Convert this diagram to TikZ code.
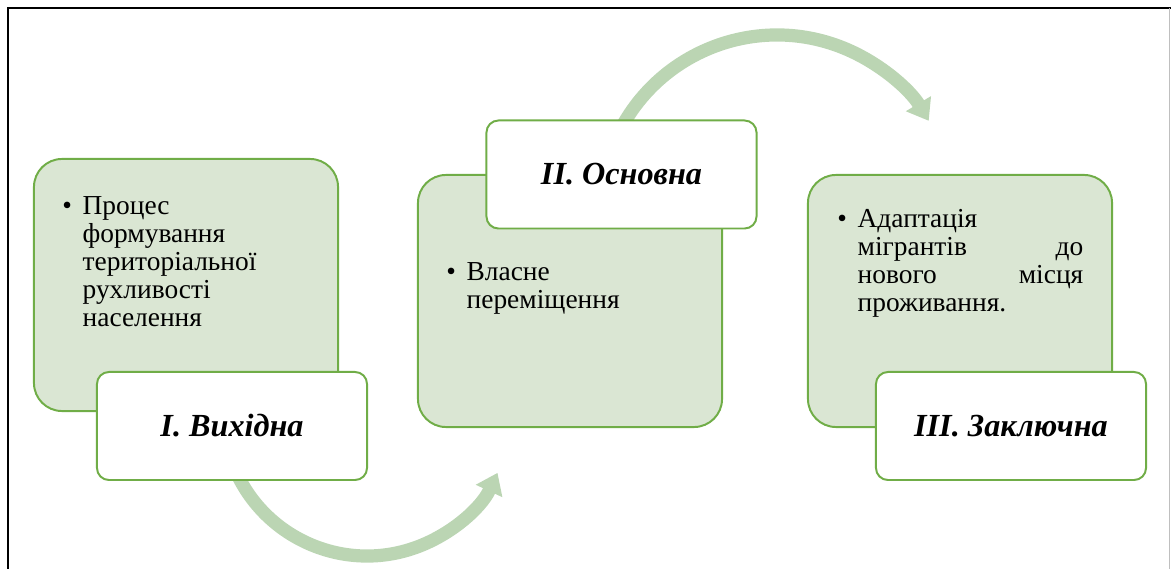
\documentclass[tikz,border=0pt]{standalone}
\usepackage{fontspec}
\setmainfont{Liberation Serif}
\usetikzlibrary{arrows.meta,calc}

\definecolor{boxfill}{RGB}{218,230,211}
\definecolor{boxline}{RGB}{112,173,71}
\definecolor{flowcol}{RGB}{187,213,179}

\newcommand{\punkt}[1]{\hangindent=14.5pt\hangafter=1\noindent\makebox[14.5pt][l]{\textbullet}#1\par}

\begin{document}
\begin{tikzpicture}[x=0.025cm,y=-0.025cm,
   stagebox/.style={draw=boxline,fill=boxfill,line width=1.4pt,rounded corners=0.7cm,
      minimum width=7.6cm,minimum height=6.3cm},
   stagelabel/.style={draw=boxline,fill=white,line width=1.4pt,rounded corners=0.3cm,
      minimum width=6.75cm,minimum height=2.7cm,
      font=\fontsize{22.9}{26}\selectfont\bfseries\itshape},
   stagetext/.style={anchor=north west,inner sep=0pt,align=left,text width=6.5cm,
      font=\fontsize{19.5}{19.9}\selectfont},
   flow/.style={draw=flowcol,line width=0.33cm,-{Triangle[length=0.5cm,width=0.7cm]}}]
\useasboundingbox (0,0) rectangle (1171,569);

% frame
\draw[line width=1.4pt] (8,569) -- (8,8) -- (1171,8);
\draw[black!25,line width=0.8pt] (1169.5,8) -- (1169.5,569);

% arrows between stages
\coordinate (c1) at (367,412);
\coordinate (c2) at (777,212);
\draw[flow] ($(c1)+(160:144)$) arc[start angle=160,end angle=25,radius=144];
\draw[flow] ($(c2)+(-155:177)$) arc[start angle=-155,end angle=-31,radius=177];

% stage I
\node[stagebox] (body1) at (186,285) {};
\node[stagetext] (txt1) at (62,196)
   {\punkt{Процес\newline формування\newline територіальної\newline рухливості\newline населення}};
\node[stagelabel] (lab1) at (232,426) {I. Вихідна};

% stage II
\node[stagebox] (body2) at (570,301) {};
\node[stagetext] (txt2) at (446,262) {\punkt{Власне\newline переміщення}};
\node[stagelabel] (lab2) at (621.5,174.5) {II. Основна};

% stage III
\node[stagebox] (body3) at (960,301) {};
\node[stagetext,text width=6.15cm] (txt3) at (837,209)
   {\punkt{Адаптація\newline мігрантів\hfill до\newline нового\hfill місця\newline проживання.}};
\node[stagelabel] (lab3) at (1011,426) {III. Заключна};
\end{tikzpicture}
\end{document}
